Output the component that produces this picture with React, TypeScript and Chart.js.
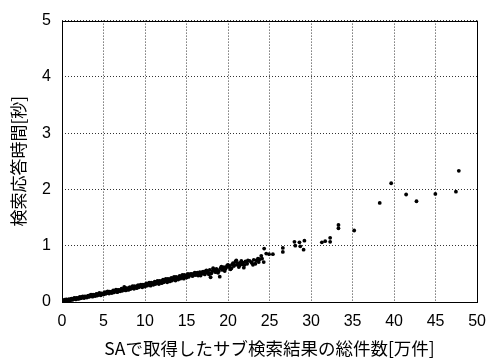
import React, { useEffect, useRef } from "react";
import { Chart, registerables } from "chart.js";

Chart.register(...registerables);

// Total sub-search results from SA [10k items]
const resultCounts: number[] = [
  0.0, 0.17, 0.33, 0.5, 0.67, 0.83, 1.0, 1.17, 1.33, 1.5, 1.67, 1.83,
  2.0, 2.17, 2.33, 2.5, 2.67, 2.83, 3.0, 3.17, 3.33, 3.5, 3.67, 3.83,
  4.0, 4.17, 4.33, 4.5, 4.67, 4.83, 5.0, 5.17, 5.33, 5.5, 5.67, 5.83,
  6.0, 6.17, 6.33, 6.5, 6.67, 6.83, 7.0, 7.17, 7.33, 7.5, 7.67, 7.83,
  8.0, 8.17, 8.33, 8.5, 8.67, 8.83, 9.0, 9.17, 9.33, 9.5, 9.67, 9.83,
  10.0, 10.17, 10.33, 10.5, 10.67, 10.83, 11.0, 11.17, 11.33, 11.5, 11.67, 11.83,
  12.0, 12.17, 12.33, 12.5, 12.67, 12.83, 13.0, 13.17, 13.33, 13.5, 13.67, 13.83,
  14.0, 14.17, 14.33, 14.5, 14.67, 14.83, 15.0, 15.17, 15.33,
  0.08, 0.25, 0.42, 0.58, 0.75, 0.92, 1.08, 1.25, 1.42, 1.58, 1.75, 1.92,
  2.08, 2.25, 2.42, 2.58, 2.75, 2.92, 3.08, 3.25, 3.42, 3.58, 3.75, 3.92,
  4.08, 4.25, 4.42, 4.58, 4.75, 4.92, 5.08, 5.25, 5.42, 5.58, 5.75, 5.92,
  6.08, 6.25, 6.42, 6.58, 6.75, 6.92, 7.08, 7.25, 7.42, 7.58, 7.75, 7.92,
  8.08, 8.25, 8.42, 8.58, 8.75, 8.92, 9.08, 9.25, 9.42, 9.58, 9.75, 9.92,
  10.08, 10.25, 10.42, 10.58, 10.75, 10.92, 11.08, 11.25, 11.42, 11.58, 11.75, 11.92,
  12.08, 12.25, 12.42, 12.58, 12.75, 12.92, 13.08, 13.25, 13.42, 13.58, 13.75, 13.92,
  14.08, 14.25, 14.42, 14.58, 14.75, 14.92, 15.08, 15.25, 15.42,
  15.5, 15.7, 15.9, 16.1, 16.3, 16.5, 16.7, 16.9, 17.1, 17.3, 17.5, 17.7, 17.9,
  18.1, 18.3, 18.5, 18.7, 18.9, 19.0, 19.1, 19.3, 19.5, 19.7, 19.9, 20.1, 20.3,
  20.5, 20.7, 20.9, 21.1, 21.3, 21.5, 21.7, 21.9, 22.1, 22.3, 22.6, 22.9, 23.1,
  23.3, 23.6, 23.8, 24.0, 24.3,
  15.6, 15.8, 16.0, 16.2, 16.4, 16.6, 16.8, 17.0, 17.2, 17.4, 17.6, 17.8, 18.0,
  18.2, 18.4, 18.6, 18.8, 19.2, 19.4, 19.6, 19.8, 20.0, 20.2, 20.4, 20.6, 20.8,
  21.0, 21.2, 21.4, 21.6, 21.8, 22.0, 22.4, 22.8, 23.0, 23.4, 23.7, 24.1,
  24.35, 24.6, 24.94, 25.4, 26.6, 26.6, 28.0, 28.1, 28.6, 28.7, 29.2, 29.1,
  31.3, 31.7, 32.3, 32.3, 33.3, 33.3, 35.2, 38.27, 39.65, 41.45, 42.7, 44.97,
  47.45, 47.8,
];

// Search response time [s]
const responseTimes: number[] = [
  0.03, 0.01, 0.04, 0.045, 0.02, 0.05, 0.03, 0.06, 0.045, 0.075, 0.045, 0.07,
  0.055, 0.09, 0.07, 0.1, 0.07, 0.095, 0.08, 0.115, 0.1, 0.13, 0.095, 0.125,
  0.105, 0.145, 0.125, 0.16, 0.12, 0.15, 0.135, 0.175, 0.155, 0.19, 0.15, 0.18,
  0.16, 0.205, 0.185, 0.22, 0.175, 0.21, 0.19, 0.235, 0.215, 0.27, 0.205, 0.24,
  0.215, 0.265, 0.245, 0.28, 0.235, 0.27, 0.245, 0.3, 0.275, 0.31, 0.26, 0.3,
  0.275, 0.33, 0.305, 0.345, 0.29, 0.335, 0.305, 0.36, 0.34, 0.375, 0.32, 0.365,
  0.335, 0.395, 0.37, 0.41, 0.35, 0.4, 0.365, 0.43, 0.405, 0.445, 0.38, 0.43,
  0.4, 0.465, 0.44, 0.48, 0.415, 0.465, 0.435, 0.5, 0.47,
  0.02, 0.035, 0.025, 0.04, 0.03, 0.035, 0.055, 0.04, 0.065, 0.055, 0.075, 0.06,
  0.08, 0.065, 0.09, 0.08, 0.1, 0.085, 0.105, 0.09, 0.12, 0.105, 0.13, 0.115,
  0.135, 0.115, 0.145, 0.13, 0.155, 0.14, 0.16, 0.145, 0.175, 0.16, 0.185, 0.17,
  0.19, 0.17, 0.2, 0.185, 0.215, 0.2, 0.22, 0.2, 0.23, 0.215, 0.245, 0.225,
  0.25, 0.23, 0.26, 0.245, 0.28, 0.26, 0.285, 0.26, 0.295, 0.275, 0.31, 0.29,
  0.315, 0.29, 0.325, 0.305, 0.345, 0.32, 0.345, 0.32, 0.36, 0.335, 0.375, 0.35,
  0.38, 0.35, 0.39, 0.365, 0.41, 0.385, 0.41, 0.38, 0.425, 0.4, 0.445, 0.415,
  0.44, 0.415, 0.46, 0.435, 0.48, 0.45, 0.475, 0.445, 0.495,
  0.49, 0.46, 0.51, 0.48, 0.52, 0.5, 0.47, 0.53, 0.51, 0.55, 0.52, 0.49, 0.44,
  0.55, 0.58, 0.53, 0.57, 0.55, 0.45, 0.6, 0.57, 0.62, 0.59, 0.65, 0.62, 0.58,
  0.67, 0.64, 0.72, 0.66, 0.62, 0.7, 0.67, 0.61, 0.72, 0.68, 0.73, 0.69, 0.75,
  0.68, 0.77, 0.76, 0.82, 0.71,
  0.5, 0.47, 0.52, 0.5, 0.47, 0.53, 0.5, 0.54, 0.49, 0.56, 0.53, 0.57, 0.51,
  0.6, 0.55, 0.59, 0.52, 0.63, 0.59, 0.55, 0.62, 0.66, 0.64, 0.6, 0.69, 0.66,
  0.74, 0.69, 0.65, 0.73, 0.7, 0.66, 0.74, 0.71, 0.66, 0.74, 0.71, 0.77,
  0.95, 0.86, 0.85, 0.85, 0.96, 0.89, 1.07, 1.0, 1.06, 0.99, 1.09, 0.93,
  1.06, 1.08, 1.14, 1.07, 1.37, 1.31, 1.27, 1.76, 2.11, 1.91, 1.79, 1.92,
  1.96, 2.33,
];

const xTitle = "SAで取得したサブ検索結果の総件数[万件]";
const yTitle = "検索応答時間[秒]";

const frame = {
  id: "frame",
  afterDraw(chart: any) {
    const { ctx, chartArea: a } = chart;
    ctx.save();
    ctx.strokeStyle = "#000";
    ctx.lineWidth = 1;
    ctx.setLineDash([]);
    ctx.strokeRect(Math.round(a.left) + 0.5, Math.round(a.top) + 0.5, Math.round(a.right - a.left), Math.round(a.bottom - a.top));
    ctx.restore();
  },
};

export default function App() {
  const ref = useRef<HTMLCanvasElement>(null);
  useEffect(() => {
    if (!ref.current) return;
    const pts = resultCounts.map((x, i) => ({ x, y: responseTimes[i] }));
    const tickFont = { family: "'Liberation Sans', Arial, sans-serif", size: 16 };
    const xTitleFont = { family: "'Noto Sans CJK JP', sans-serif", size: 17.5 };
    const yTitleFont = { family: "'Noto Sans CJK JP', sans-serif", size: 17 };
    const grid = {
      color: "#333",
      lineWidth: 1,
      drawTicks: false,
    };
    const border = { display: false, dash: [1, 2] };
    const chart = new Chart(ref.current, {
      type: "scatter",
      data: {
        datasets: [
          {
            data: pts,
            backgroundColor: "#000",
            borderWidth: 0,
            pointRadius: 1.9,
          },
        ],
      },
      options: {
        animation: false,
        responsive: false,
        layout: { padding: { top: 16, right: 9, left: 0, bottom: 0 } },
        plugins: { legend: { display: false }, tooltip: { enabled: false } },
        scales: {
          x: {
            type: "linear",
            min: 0,
            max: 50,
            ticks: { stepSize: 5, color: "#000", font: tickFont, padding: 10, maxRotation: 0 },
            grid: grid as any,
            border: border as any,
            title: { display: true, text: xTitle, color: "#000", font: xTitleFont, padding: { top: 0, bottom: 2 } },
            afterFit: (s: any) => { s.height = 59; },
          },
          y: {
            type: "linear",
            min: 0,
            max: 5,
            ticks: { stepSize: 1, color: "#000", font: tickFont, padding: 11 },
            grid: grid as any,
            border: border as any,
            title: { display: true, text: yTitle, color: "#000", font: yTitleFont, padding: { top: 8, bottom: 0 } },
            afterFit: (s: any) => { s.width = 62; },
          },
        },
      },
      plugins: [frame],
    });
    return () => chart.destroy();
  }, []);
  return (
    <div style={{ position: "absolute", left: 0, top: 0, width: 496, height: 361, background: "#fff" }}>
      <canvas ref={ref} width={496} height={361} style={{ display: "block" }} />
    </div>
  );
}
